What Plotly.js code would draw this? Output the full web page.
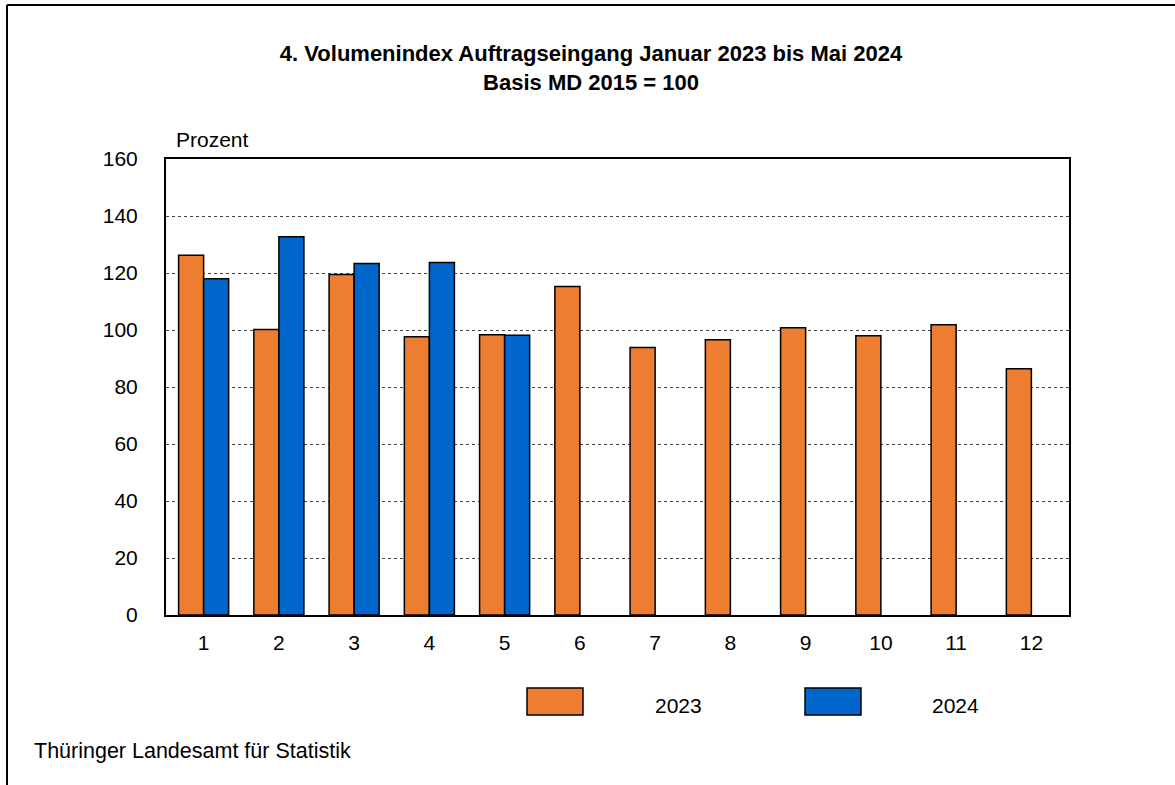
<!DOCTYPE html>
<html>
<head>
<meta charset="utf-8">
<script src="https://cdn.plot.ly/plotly-3.0.1.min.js"></script>
<style>
html, body { margin: 0; padding: 0; background: #ffffff; }
#chart { width: 1175px; height: 785px; }
</style>
</head>
<body>
<div id="chart"></div>
<script>
// ---- data ----
var months = [1, 2, 3, 4, 5, 6, 7, 8, 9, 10, 11, 12];
var monthLabels = ["1", "2", "3", "4", "5", "6", "7", "8", "9", "10", "11", "12"];
var values2023 = [126.2, 100.2, 119.5, 97.6, 98.3, 115.3, 93.9, 96.6, 100.8, 98.0, 101.8, 86.4];
var months2024 = [1, 2, 3, 4, 5];
var values2024 = [118.0, 132.7, 123.3, 123.7, 98.2];
var seriesNames = ["2023", "2024"];
var yTicks = [0, 20, 40, 60, 80, 100, 120, 140, 160];

var titleLine1 = "4. Volumenindex Auftragseingang Januar 2023 bis Mai 2024";
var titleLine2 = "Basis MD 2015 = 100";
var yUnit = "Prozent";
var source = "Thüringer Landesamt für Statistik";

var colOrange = "#ed7d31";
var colBlue = "#0066cc";
var font = "Arial, 'Liberation Sans', Helvetica, sans-serif";
var fs = 21;

var traces = [
  {
    type: "bar", name: seriesNames[0], x: months, y: values2023,
    marker: { color: colOrange, line: { color: "#000000", width: 1.5 } },
    hoverinfo: "x+y+name"
  },
  {
    type: "bar", name: seriesNames[1], x: months2024, y: values2024,
    marker: { color: colBlue, line: { color: "#000000", width: 1.5 } },
    hoverinfo: "x+y+name"
  }
];

// plot area in px: x 166..1069, y 159..615
var L = 166, R = 1069, T = 159, B = 615;
function px(x) { return (x - L) / (R - L); }
function py(y) { return (B - y) / (B - T); }

var layout = {
  width: 1175, height: 785,
  margin: { l: L, r: 1175 - R, t: T, b: 785 - B, pad: 0 },
  paper_bgcolor: "#ffffff", plot_bgcolor: "#ffffff",
  font: { family: font, color: "#000000", size: fs },
  showlegend: false,
  barmode: "group",
  bargap: 0.335,
  bargroupgap: 0,
  title: {
    text: "<b>" + titleLine1 + "</b><br><b>" + titleLine2 + "</b>",
    font: { family: font, size: 22, color: "#000000" },
    xref: "paper", x: px(591), xanchor: "center",
    yref: "container", y: 1 - 61 / 785, yanchor: "top"
  },
  xaxis: {
    type: "linear",
    range: [0.5, 12.5],
    tickvals: months, ticktext: monthLabels,
    ticks: "", ticklabelstandoff: 8,
    showgrid: false, zeroline: false,
    showline: true, linecolor: "#000000", linewidth: 2, mirror: true,
    tickfont: { family: font, size: fs, color: "#000000" },
    fixedrange: true
  },
  yaxis: {
    range: [0, 160],
    tickvals: yTicks,
    ticks: "", ticklabelstandoff: 22,
    showgrid: true, gridcolor: "#444444", gridwidth: 1, griddash: "dot",
    zeroline: false,
    showline: true, linecolor: "#000000", linewidth: 2, mirror: true,
    tickfont: { family: font, size: fs, color: "#000000" },
    fixedrange: true
  },
  shapes: [
    // outer frame (top and left)
    { type: "line", xref: "paper", yref: "paper", x0: px(7), x1: px(1176), y0: py(5), y1: py(5), line: { color: "#000000", width: 2 } },
    { type: "line", xref: "paper", yref: "paper", x0: px(7), x1: px(7), y0: py(5), y1: py(786), line: { color: "#000000", width: 2 } },
    // legend boxes
    { type: "rect", xref: "paper", yref: "paper", x0: px(527), x1: px(583), y0: py(688), y1: py(715), fillcolor: colOrange, line: { color: "#000000", width: 1.5 } },
    { type: "rect", xref: "paper", yref: "paper", x0: px(805), x1: px(861), y0: py(688), y1: py(715), fillcolor: colBlue, line: { color: "#000000", width: 1.5 } }
  ],
  annotations: [
    { xref: "paper", yref: "paper", x: px(174), y: py(140), xanchor: "left", yanchor: "middle", text: yUnit, showarrow: false, font: { family: font, size: fs, color: "#000000" } },
    { xref: "paper", yref: "paper", x: px(678), y: py(705), xanchor: "center", yanchor: "middle", text: seriesNames[0], showarrow: false, font: { family: font, size: fs, color: "#000000" } },
    { xref: "paper", yref: "paper", x: px(955), y: py(705), xanchor: "center", yanchor: "middle", text: seriesNames[1], showarrow: false, font: { family: font, size: fs, color: "#000000" } },
    { xref: "paper", yref: "paper", x: px(32), y: py(751), xanchor: "left", yanchor: "middle", text: source, showarrow: false, font: { family: font, size: 21.5, color: "#000000" } }
  ]
};

Plotly.newPlot("chart", traces, layout, { displayModeBar: false, responsive: false });
</script>
</body>
</html>
